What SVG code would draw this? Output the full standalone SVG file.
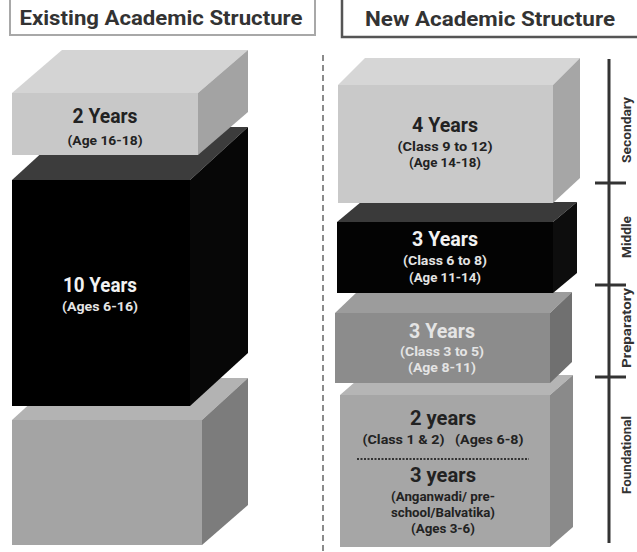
<svg xmlns="http://www.w3.org/2000/svg" width="637" height="552" viewBox="0 0 637 552">
<style>
text{font-family:Roboto,"Liberation Sans",Arial,sans-serif;font-weight:700;text-anchor:middle}
.hd{font-size:21px;fill:#333}
.big{font-size:19.5px}
.sm{font-size:12.5px}
.dk{fill:#222}
.lt{fill:#f2f2f2}
.lg{fill:#e4e4e4}
.ax{font-size:13px;fill:#333}
</style>
<rect width="637" height="552" fill="#fff"/>
<g id="header-existing">
<path d="M10,0 V35 H315 V0" fill="none" stroke="#a8a8a8" stroke-width="2"/>
<text class="hd" x="161" y="25" textLength="283" lengthAdjust="spacingAndGlyphs">Existing Academic Structure</text>
</g>
<g id="header-new">
<path d="M342,0 V37 H637" fill="none" stroke="#555" stroke-width="2.5"/>
<text class="hd" x="490" y="26" textLength="250" lengthAdjust="spacingAndGlyphs">New Academic Structure</text>
</g>
<g id="divider"><line x1="323" y1="55" x2="323" y2="552" stroke="#666" stroke-width="1.5" stroke-dasharray="6 4"/></g>

<g id="old-bottom">
<polygon points="12,420 58,378 248,378 202,420" fill="#b3b3b3"/>
<polygon points="202,420 248,378 248,505 202,545" fill="#7c7c7c"/>
<rect x="12" y="420" width="190" height="125" fill="#a4a4a4"/>
</g>
<g id="old-10years">
<polygon points="12,180 70,127 248,127 190,180" fill="#3c3c3c"/>
<polygon points="190,180 248,127 248,353 190,406" fill="#070707"/>
<rect x="12" y="180" width="178" height="226" fill="#000"/>
<text class="big lt" x="100" y="292" textLength="74" lengthAdjust="spacingAndGlyphs">10 Years</text>
<text class="sm lg" x="100" y="311" textLength="76" lengthAdjust="spacingAndGlyphs">(Ages 6-16)</text>
</g>
<g id="old-2years">
<polygon points="12,93 62,50 248,50 198,93" fill="#d4d4d4"/>
<polygon points="198,93 248,50 248,112 198,155" fill="#a3a3a3"/>
<rect x="12" y="93" width="186" height="62" fill="#c8c8c8"/>
<text class="big dk" x="105" y="123" textLength="65" lengthAdjust="spacingAndGlyphs">2 Years</text>
<text class="sm dk" x="105" y="145" textLength="75" lengthAdjust="spacingAndGlyphs">(Age 16-18)</text>
</g>

<g id="foundational">
<polygon points="340,395 363,375 573,375 550,395" fill="#b5b5b5"/>
<polygon points="550,395 573,375 573,527 550,547" fill="#8a8a8a"/>
<rect x="340" y="395" width="210" height="152" fill="#a6a6a6"/>
<text class="big dk" x="443" y="425" textLength="66" lengthAdjust="spacingAndGlyphs">2 years</text>
<text class="sm dk" x="443" y="444" textLength="161" lengthAdjust="spacingAndGlyphs" xml:space="preserve">(Class 1 &amp; 2)   (Ages 6-8)</text>
<line x1="357" y1="459" x2="529" y2="459" stroke="#333" stroke-width="1.8" stroke-dasharray="2 1.5"/>
<text class="big dk" x="443" y="482" textLength="66" lengthAdjust="spacingAndGlyphs">3 years</text>
<text class="sm dk" x="443" y="501" textLength="104" lengthAdjust="spacingAndGlyphs">(Anganwadi/ pre-</text>
<text class="sm dk" x="443" y="517" textLength="104" lengthAdjust="spacingAndGlyphs">school/Balvatika)</text>
<text class="sm dk" x="443" y="533" textLength="64" lengthAdjust="spacingAndGlyphs">(Ages 3-6)</text>
</g>
<g id="preparatory">
<polygon points="335,313 357,292 572,292 550,313" fill="#9c9c9c"/>
<polygon points="550,313 572,292 572,362 550,383" fill="#707070"/>
<rect x="335" y="313" width="215" height="70" fill="#8c8c8c"/>
<text class="big lg" x="442" y="338" textLength="66" lengthAdjust="spacingAndGlyphs">3 Years</text>
<text class="sm lg" x="442" y="356" textLength="84" lengthAdjust="spacingAndGlyphs">(Class 3 to 5)</text>
<text class="sm lg" x="442" y="372" textLength="68" lengthAdjust="spacingAndGlyphs">(Age 8-11)</text>
</g>
<g id="middle">
<polygon points="337,222 361,202 577,202 553,222" fill="#3a3a3a"/>
<polygon points="553,222 577,202 577,273 553,293" fill="#0d0d0d"/>
<rect x="337" y="222" width="216" height="71" fill="#030303"/>
<text class="big lt" x="445" y="246" textLength="66" lengthAdjust="spacingAndGlyphs">3 Years</text>
<text class="sm lg" x="445" y="265" textLength="84" lengthAdjust="spacingAndGlyphs">(Class 6 to 8)</text>
<text class="sm lg" x="445" y="282" textLength="72" lengthAdjust="spacingAndGlyphs">(Age 11-14)</text>
</g>
<g id="secondary">
<polygon points="338,85 365,58 580,58 553,85" fill="#d6d6d6"/>
<polygon points="553,85 580,58 580,178 553,203" fill="#a6a6a6"/>
<rect x="338" y="85" width="215" height="118" fill="#c9c9c9"/>
<text class="big dk" x="445" y="132" textLength="66" lengthAdjust="spacingAndGlyphs">4 Years</text>
<text class="sm dk" x="445" y="151" textLength="95" lengthAdjust="spacingAndGlyphs">(Class 9 to 12)</text>
<text class="sm dk" x="445" y="167" textLength="72" lengthAdjust="spacingAndGlyphs">(Age 14-18)</text>
</g>

<g id="axis" stroke="#333" stroke-width="3">
<line x1="609" y1="59" x2="609" y2="543"/>
<line x1="595" y1="183" x2="626" y2="183"/>
<line x1="595" y1="285" x2="626" y2="285"/>
<line x1="595" y1="377" x2="626" y2="377"/>
</g>
<g id="axis-labels">
<text class="ax" transform="translate(631,130) rotate(-90)" textLength="66" lengthAdjust="spacingAndGlyphs">Secondary</text>
<text class="ax" transform="translate(631,237) rotate(-90)" textLength="42" lengthAdjust="spacingAndGlyphs">Middle</text>
<text class="ax" transform="translate(631,328) rotate(-90)" textLength="80" lengthAdjust="spacingAndGlyphs">Preparatory</text>
<text class="ax" transform="translate(631,455) rotate(-90)" textLength="78" lengthAdjust="spacingAndGlyphs">Foundational</text>
</g>
</svg>
